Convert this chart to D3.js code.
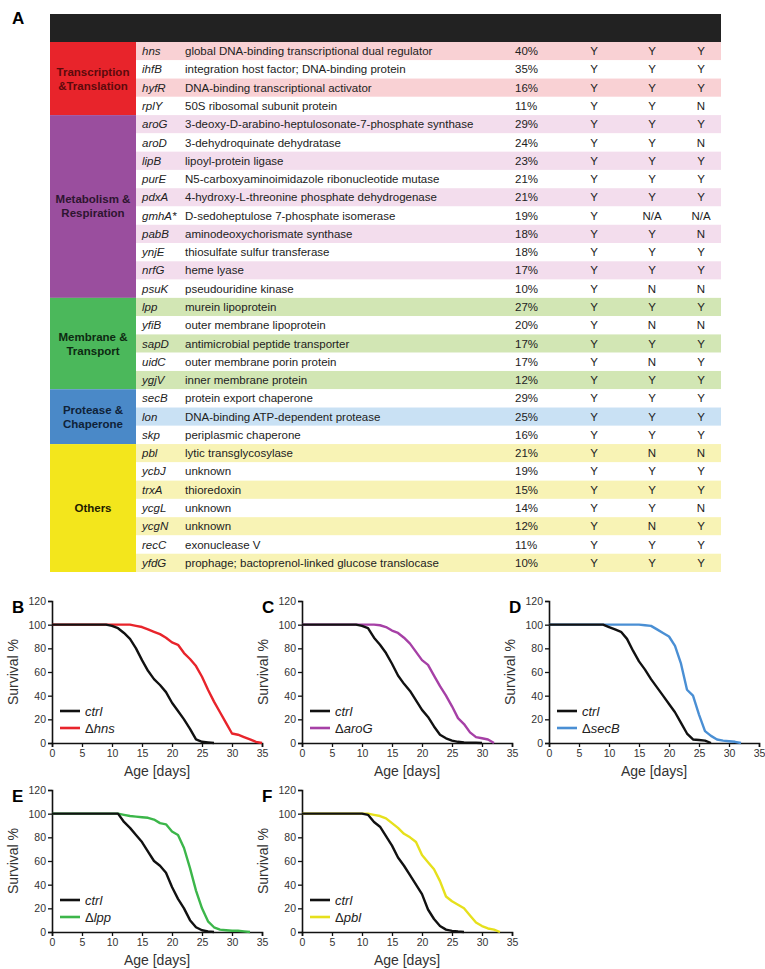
<!DOCTYPE html>
<html lang="en">
<head>
<meta charset="UTF-8">
<title>Lifespan screen</title>
<script src="https://d3js.org/d3.v7.min.js"></script>
<style>
  body { margin: 0; background: #fff; }
  svg { font-family: "Liberation Sans", Arial, sans-serif; }
</style>
</head>
<body>
<div id="chart"></div>
<script>
// ---- table data ----
const categories = ["Transcription\n&Translation", "Metabolism &\nRespiration", "Membrane &\nTransport", "Protease &\nChaperone", "Others"];
const catSizes = [4, 10, 5, 3, 7];
const catColors = ["#e8242b", "#9a4e9e", "#4bb85b", "#4a89c8", "#f3e61c"];
const catShades = ["#f9d1d4", "#f3dded", "#d2e6b4", "#c9e1f4", "#f8f3b5"];
const catText = ["#5c0a0c", "#2e1530", "#0e2a12", "#0f2238", "#1e1c00"];

const genes = ["hns", "ihfB", "hyfR", "rplY",
  "aroG", "aroD", "lipB", "purE", "pdxA", "gmhA*", "pabB", "ynjE", "nrfG", "psuK",
  "lpp", "yfiB", "sapD", "uidC", "ygjV",
  "secB", "lon", "skp",
  "pbl", "ycbJ", "trxA", "ycgL", "ycgN", "recC", "yfdG"];
const descriptions = ["global DNA-binding transcriptional dual regulator", "integration host factor; DNA-binding protein",
  "DNA-binding transcriptional activator", "50S ribosomal subunit protein",
  "3-deoxy-D-arabino-heptulosonate-7-phosphate synthase", "3-dehydroquinate dehydratase", "lipoyl-protein ligase",
  "N5-carboxyaminoimidazole ribonucleotide mutase", "4-hydroxy-L-threonine phosphate dehydrogenase",
  "D-sedoheptulose 7-phosphate isomerase", "aminodeoxychorismate synthase", "thiosulfate sulfur transferase",
  "heme lyase", "pseudouridine kinase",
  "murein lipoprotein", "outer membrane lipoprotein", "antimicrobial peptide transporter", "outer membrane porin protein",
  "inner membrane protein",
  "protein export chaperone", "DNA-binding ATP-dependent protease", "periplasmic chaperone",
  "lytic transglycosylase", "unknown", "thioredoxin", "unknown", "unknown", "exonuclease V",
  "prophage; bactoprenol-linked glucose translocase"];
const percents = ["40%", "35%", "16%", "11%",
  "29%", "24%", "23%", "21%", "21%", "19%", "18%", "18%", "17%", "10%",
  "27%", "20%", "17%", "17%", "12%",
  "29%", "25%", "16%",
  "21%", "19%", "15%", "14%", "12%", "11%", "10%"];
const col1 = ["Y","Y","Y","Y", "Y","Y","Y","Y","Y","Y","Y","Y","Y","Y", "Y","Y","Y","Y","Y", "Y","Y","Y", "Y","Y","Y","Y","Y","Y","Y"];
const col2 = ["Y","Y","Y","Y", "Y","Y","Y","Y","Y","N/A","Y","Y","Y","N", "Y","N","Y","N","Y", "Y","Y","Y", "N","Y","Y","Y","N","Y","Y"];
const col3 = ["Y","Y","Y","N", "Y","N","Y","Y","Y","N/A","N","Y","Y","N", "Y","N","Y","Y","Y", "Y","Y","Y", "N","Y","Y","N","Y","Y","Y"];

// ---- survival data (daily % alive, day 0 onward) ----
const panelLetters = ["B", "C", "D", "E", "F"];
const mutantNames = ["hns", "aroG", "secB", "lpp", "pbl"];
const mutantColors = ["#e8242b", "#a640a6", "#4a8fd4", "#3cb64a", "#e6e01c"];
const ctrlB = [100,100,100,100,100,100,100,100,100,100,99,97,93,88,80,70,61,54,49,43,34,27,20,12,3,1,0.5,0];
const ctrlC = [100,100,100,100,100,100,100,100,100,100,99,97,89,83,76,67,57,50,44,36,28,22,14,7,4,2,1,0.5,0.3,0.2,0];
const ctrlD = [100,100,100,100,100,100,100,100,100,100,98,96,94,88,78,69,62,54,47,40,33,26,17,8,3,2.5,2,0];
const ctrlE = [100,100,100,100,100,100,100,100,100,100,100,100,93,88,82,76,68,60,56,50,38,28,20,10,4,1.5,0.5,0];
const ctrlF = [100,100,100,100,100,100,100,100,100,100,100,99,93,89,81,73,63,56,48,40,32,19,11,5,2,1,0.4,0];
const mutB = [100,100,100,100,100,100,100,100,100,100,100,100,100,100,99,98,96,94,92,89,85,83,76,71,65,56,45,35,26,17,8,7,5,3,1,0];
const mutC = [100,100,100,100,100,100,100,100,100,100,100,100,100,99.5,98,95,93,89,84,77,70,66,57,48,40,31,21,16,9,5,4,3,0];
const mutD = [100,100,100,100,100,100,100,100,100,100,100,100,100,100,100,100,99.5,99,96,93,90,82,67,45,40,24,10,6,3,2,1.5,1,0];
const mutE = [100,100,100,100,100,100,100,100,100,100,100,100,99,98,97.5,97,96.5,95,92,91,85,82,71,54,35,20,9,4,2,1.5,1,1,0.5,0];
const mutF = [100,100,100,100,100,100,100,100,100,100,100,100,99,98,96,92,88,83,80,76,65,59,53,43,30,26,23,20,14,8,5,3,2,0];
const ctrlSeries = [ctrlB, ctrlC, ctrlD, ctrlE, ctrlF];
const mutSeries = [mutB, mutC, mutD, mutE, mutF];
const xTicks = [0, 5, 10, 15, 20, 25, 30, 35];
const yTicks = [0, 20, 40, 60, 80, 100, 120];

const W = 765, H = 969;
const svg = d3.select("#chart").append("svg").attr("width", W).attr("height", H);

// ================= Panel A: table =================
const tx0 = 50, tx1 = 721;
svg.append("text").attr("x", 12).attr("y", 24).attr("font-size", 17).attr("font-weight", "bold").text("A");
svg.append("rect").attr("x", tx0).attr("y", 14).attr("width", tx1 - tx0).attr("height", 28).attr("fill", "#222");

const rowY = d3.scaleBand().domain(d3.range(genes.length)).range([42, 572]).padding(0);
const rh = rowY.bandwidth();

// category of each gene row
const rowCat = [];
catSizes.forEach((n, ci) => { for (let k = 0; k < n; k++) rowCat.push(ci); });

// row shading
svg.append("g").selectAll("rect").data(genes).join("rect")
  .attr("x", 136).attr("width", tx1 - 136)
  .attr("y", (d, i) => rowY(i)).attr("height", rh)
  .attr("fill", (d, i) => i % 2 === 0 ? catShades[rowCat[i]] : "#fff");

// category blocks
let start = 0;
const catG = svg.append("g");
categories.forEach((c, ci) => {
  const y0 = rowY(start), y1 = rowY(start + catSizes[ci] - 1) + rh;
  catG.append("rect").attr("x", tx0).attr("y", y0).attr("width", 136 - tx0).attr("height", y1 - y0)
    .attr("fill", catColors[ci]);
  const lines = c.split("\n");
  const t = catG.append("text").attr("x", 93).attr("text-anchor", "middle")
    .attr("font-size", 11.5).attr("font-weight", "bold").attr("fill", catText[ci]);
  lines.forEach((l, li) => {
    t.append("tspan").attr("x", 93)
      .attr("y", (y0 + y1) / 2 + 4 + (li - (lines.length - 1) / 2) * 14).text(l);
  });
  start += catSizes[ci];
});

// row text
const rows = svg.append("g").attr("font-size", 11.5).attr("fill", "#222")
  .selectAll("g").data(genes).join("g")
  .attr("transform", (d, i) => `translate(0,${rowY(i) + rh / 2 + 4})`);
rows.append("text").attr("x", 142).attr("font-style", "italic").text(d => d);
rows.append("text").attr("x", 185).text((d, i) => descriptions[i]);
rows.append("text").attr("x", 515).text((d, i) => percents[i]);
[col1, col2, col3].forEach((col, k) => {
  rows.append("text").attr("x", [594, 652, 701][k]).attr("text-anchor", "middle").text((d, i) => col[i]);
});

// ================= Panels B-F: survival curves =================
const panelPos = [[52, 743], [302, 743], [549, 743], [52, 932], [302, 932]];
const pw = 210, ph = 142;
const x = d3.scaleLinear().domain([0, 35]).range([0, pw]);
const y = d3.scaleLinear().domain([0, 120]).range([ph, 0]);
const line = d3.line().x((d, i) => x(i)).y(d => y(d));

panelLetters.forEach((L, p) => {
  const [ox, oy] = panelPos[p];
  const g = svg.append("g").attr("transform", `translate(${ox},${oy - ph})`);

  svg.append("text").attr("x", ox - 40).attr("y", oy - ph + 12)
    .attr("font-size", 17).attr("font-weight", "bold").text(L);

  const ya = g.append("g").call(d3.axisLeft(y).tickValues(yTicks).tickSize(4).tickPadding(2));
  const xa = g.append("g").attr("transform", `translate(0,${ph})`)
    .call(d3.axisBottom(x).tickValues(xTicks).tickSize(4).tickPadding(3));
  [ya, xa].forEach(a => {
    a.select(".domain").attr("stroke", "#111").attr("stroke-width", 1.6);
    a.selectAll(".tick line").attr("stroke", "#111").attr("stroke-width", 1.3);
    a.selectAll(".tick text").attr("font-size", 10.5).attr("fill", "#333")
      .attr("font-family", "'Liberation Sans', Arial, sans-serif");
  });

  g.append("text").attr("transform", `translate(-34,${ph / 2}) rotate(-90)`)
    .attr("text-anchor", "middle").attr("font-size", 14).attr("fill", "#333").text("Survival %");
  g.append("text").attr("x", pw / 2).attr("y", ph + 33)
    .attr("text-anchor", "middle").attr("font-size", 14).attr("fill", "#333").text("Age [days]");

  g.append("path").datum(mutSeries[p]).attr("d", line)
    .attr("fill", "none").attr("stroke", mutantColors[p]).attr("stroke-width", 2.4)
    .attr("stroke-linejoin", "round");
  g.append("path").datum(ctrlSeries[p]).attr("d", line)
    .attr("fill", "none").attr("stroke", "#111").attr("stroke-width", 2.4)
    .attr("stroke-linejoin", "round");

  // legend
  const lg = g.append("g").attr("transform", `translate(8,${ph - 32})`);
  const items = [["ctrl", "#111", false], [mutantNames[p], mutantColors[p], true]];
  items.forEach((it, k) => {
    lg.append("line").attr("x1", 0).attr("x2", 20).attr("y1", k * 17).attr("y2", k * 17)
      .attr("stroke", it[1]).attr("stroke-width", 2.6);
    const t = lg.append("text").attr("x", 25).attr("y", k * 17 + 5)
      .attr("font-size", 13).attr("fill", "#222");
    if (it[2]) t.append("tspan").text("\u0394");
    t.append("tspan").attr("font-style", "italic").text(it[0]);
  });
});
</script>
</body>
</html>
